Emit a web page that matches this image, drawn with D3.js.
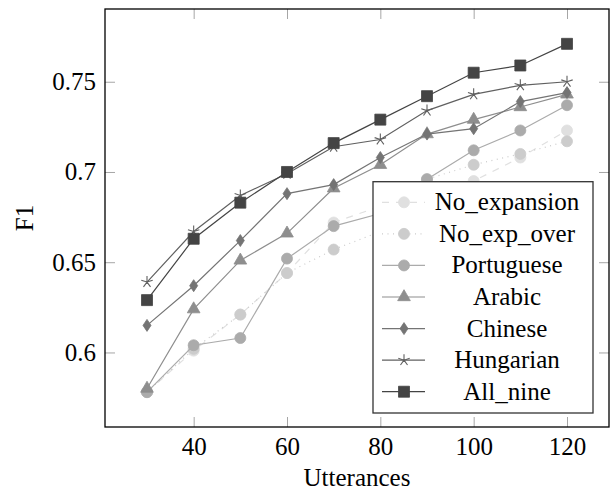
<!DOCTYPE html>
<html>
<head>
<meta charset="utf-8">
<script src="https://cdn.jsdelivr.net/npm/d3@7"></script>
<style>
  body { margin: 0; background: #fff; }
  svg { font-family: "Liberation Serif"; }
</style>
</head>
<body>
<svg></svg>
<script>
let width = 616;
let height = 490;
let serifFont = "Liberation Serif";
let fontSize = 25;

// data
let utterances = [30, 40, 50, 60, 70, 80, 90, 100, 110, 120];
let noExpansion = [0.578, 0.601, 0.621, 0.644, 0.672, 0.681, 0.687, 0.695, 0.708, 0.723];
let noExpOver   = [0.578, 0.602, 0.621, 0.644, 0.657, 0.667, 0.696, 0.704, 0.710, 0.717];
let portuguese  = [0.578, 0.604, 0.608, 0.652, 0.670, 0.677, 0.696, 0.712, 0.723, 0.737];
let arabic      = [0.580, 0.624, 0.651, 0.666, 0.691, 0.704, 0.721, 0.729, 0.736, 0.743];
let chinese     = [0.615, 0.637, 0.662, 0.688, 0.693, 0.708, 0.721, 0.724, 0.739, 0.744];
let hungarian   = [0.639, 0.667, 0.687, 0.699, 0.714, 0.718, 0.734, 0.743, 0.748, 0.750];
let allNine     = [0.629, 0.663, 0.683, 0.700, 0.716, 0.729, 0.742, 0.755, 0.759, 0.771];

let xTicks = [40, 60, 80, 100, 120];
let yTicks = [0.6, 0.65, 0.7, 0.75];
let yTickLabels = ["0.6", "0.65", "0.7", "0.75"];

let series = [
  {name: "No_expansion", values: noExpansion, colour: "#e0e0e0", mark: "circle",  dash: "7,7"},
  {name: "No_exp_over",  values: noExpOver,   colour: "#cccccc", mark: "circle",  dash: "1,4.5"},
  {name: "Portuguese",   values: portuguese,  colour: "#ababab", mark: "circle",  dash: null},
  {name: "Arabic",       values: arabic,      colour: "#8e8e8e", mark: "triangle", dash: null},
  {name: "Chinese",      values: chinese,     colour: "#747474", mark: "diamond", dash: null},
  {name: "Hungarian",    values: hungarian,   colour: "#606060", mark: "star",    dash: null},
  {name: "All_nine",     values: allNine,     colour: "#444444", mark: "square",  dash: null}
];

let margin = {left: 105, right: 7, top: 9, bottom: 63};

let svg = d3.select("svg")
  .attr("width", width)
  .attr("height", height)
  .attr("font-family", serifFont);

// pgfplots style: enlarge limits by 10% of range
let xr = d3.extent(utterances);
let xPad = (xr[1] - xr[0]) * 0.1;
let allVals = series.flatMap(s => s.values);
let yr = d3.extent(allVals);
let yPad = (yr[1] - yr[0]) * 0.1;

let x = d3.scaleLinear()
  .domain([xr[0] - xPad, xr[1] + xPad])
  .range([margin.left, width - margin.right]);

let y = d3.scaleLinear()
  .domain([yr[0] - yPad, yr[1] + yPad])
  .range([height - margin.bottom, margin.top]);

let x0 = margin.left, x1 = width - margin.right;
let y0 = height - margin.bottom, y1 = margin.top;

function serif(sel) {
  sel.attr("font-family", serifFont)
    .attr("font-size", fontSize)
    .style("font-family", "'" + serifFont + "'")
    .style("font-size", fontSize + "px");
}

function styleAxis(g) {
  g.attr("font-family", serifFont).attr("font-size", fontSize);
  g.select(".domain").remove();
  g.selectAll(".tick line").attr("stroke", "#a6a6a6").attr("stroke-width", 1);
  g.selectAll(".tick text").attr("fill", "#000").call(serif);
}

svg.append("g")
  .attr("transform", "translate(" + x0 + ",0)")
  .call(d3.axisLeft(y).tickValues(yTicks).tickSize(-10).tickPadding(9)
    .tickFormat((d, i) => yTickLabels[i]))
  .call(styleAxis);

svg.append("g")
  .attr("transform", "translate(" + x1 + ",0)")
  .call(d3.axisRight(y).tickValues(yTicks).tickSize(-10).tickFormat(""))
  .call(styleAxis);

svg.append("g")
  .attr("transform", "translate(0," + y0 + ")")
  .call(d3.axisBottom(x).tickValues(xTicks).tickSize(-10).tickPadding(10))
  .call(styleAxis);

svg.append("g")
  .attr("transform", "translate(0," + y1 + ")")
  .call(d3.axisTop(x).tickValues(xTicks).tickSize(-10).tickFormat(""))
  .call(styleAxis);

// frame
svg.append("rect")
  .attr("x", x0).attr("y", y1)
  .attr("width", x1 - x0).attr("height", y0 - y1)
  .attr("fill", "none")
  .attr("stroke", "#000")
  .attr("stroke-width", 1.3);

// axis titles
svg.append("text")
  .attr("x", (x0 + x1) / 2)
  .attr("y", 486)
  .attr("text-anchor", "middle")
  .call(serif)
  .text("Utterances");

svg.append("text")
  .attr("transform", "translate(33," + ((y0 + y1) / 2) + ") rotate(-90)")
  .attr("text-anchor", "middle")
  .call(serif)
  .text("F1");

// marker shapes
function markPath(mark) {
  if (mark === "circle") return d3.symbol(d3.symbolCircle, 95)();
  if (mark === "square") return d3.symbol(d3.symbolSquare, 121)();
  if (mark === "triangle") return d3.symbol(d3.symbolTriangle, 70)();
  if (mark === "diamond") return "M0,-6L4,0L0,6L-4,0Z";
  if (mark === "star") {
    let p = "";
    for (let k = 0; k < 5; k++) {
      let a = -Math.PI / 2 + k * 2 * Math.PI / 5;
      p += "M0,0L" + (6 * Math.cos(a)).toFixed(2) + "," + (6 * Math.sin(a)).toFixed(2);
    }
    return p;
  }
}

function drawMark(g, s) {
  let m = g.append("path").attr("d", markPath(s.mark));
  if (s.mark === "star") {
    m.attr("fill", "none").attr("stroke", s.colour).attr("stroke-width", 1.1);
  } else {
    m.attr("fill", s.colour).attr("stroke", s.colour).attr("stroke-width", 0.8);
  }
}

let line = d3.line()
  .x((d, i) => x(utterances[i]))
  .y(d => y(d));

series.forEach(s => {
  let g = svg.append("g").attr("class", "series");
  g.append("path")
    .datum(s.values)
    .attr("d", line)
    .attr("fill", "none")
    .attr("stroke", s.colour)
    .attr("stroke-width", 1.2)
    .attr("stroke-dasharray", s.dash);

  g.selectAll(".pt")
    .data(s.values)
    .enter()
    .append("g")
      .attr("class", "pt")
      .attr("transform", (d, i) => "translate(" + x(utterances[i]) + "," + y(d) + ")")
      .each(function () { drawMark(d3.select(this), s); });
});

// legend
let lx = 373, ly = 181.7, lw = 220, lh = 231.3;
let legend = svg.append("g").attr("class", "legend");
legend.append("rect")
  .attr("x", lx).attr("y", ly)
  .attr("width", lw).attr("height", lh)
  .attr("fill", "#fff")
  .attr("stroke", "#333")
  .attr("stroke-width", 1.3);

let rowStep = 31.57;
let rows = legend.selectAll(".row")
  .data(series)
  .enter()
  .append("g")
    .attr("class", "row")
    .attr("transform", (d, i) => "translate(0," + (ly + 20.6 + i * rowStep) + ")");

rows.append("line")
  .attr("x1", lx + 9).attr("x2", lx + 52)
  .attr("y1", 0).attr("y2", 0)
  .attr("stroke", d => d.colour)
  .attr("stroke-width", 1.2)
  .attr("stroke-dasharray", d => d.dash);

rows.append("g")
  .attr("transform", "translate(" + (lx + 31) + ",0)")
  .each(function (d) { drawMark(d3.select(this), d); });

rows.append("text")
  .attr("x", lx + 134)
  .attr("dy", "0.32em")
  .attr("text-anchor", "middle")
  .call(serif)
  .text(d => d.name);

// make sure every label ends up in the serif face
svg.selectAll("text").call(serif);
</script>
</body>
</html>
